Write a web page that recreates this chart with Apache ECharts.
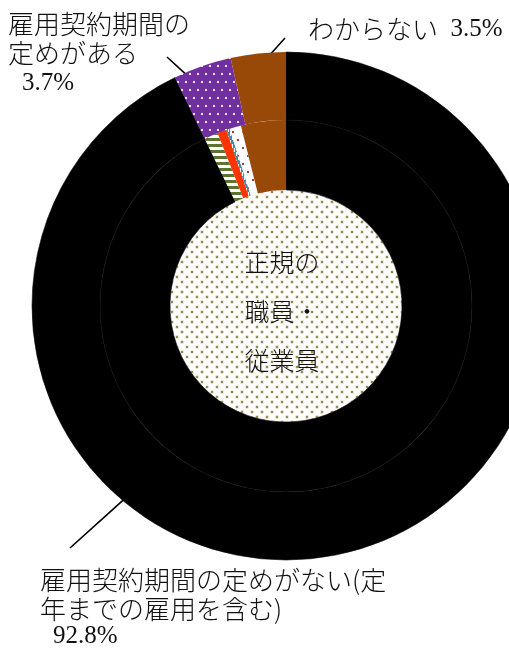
<!DOCTYPE html>
<html>
<head>
<meta charset="utf-8">
<script src="https://cdn.jsdelivr.net/npm/echarts@6/dist/echarts.min.js"></script>
<style>
  html, body { margin: 0; padding: 0; background: #ffffff; }
  #chart { width: 509px; height: 649px; }
</style>
</head>
<body>
<div id="chart"></div>
<script>
// Outer ring: contract period of regular staff (%)
const outerNames = ['雇用契約期間の定めがない(定\n年までの雇用を含む)', '雇用契約期間の\n定めがある', 'わからない'];
const outerValues = [92.8, 3.7, 3.5];

// Inner ring: the same split, with the fixed-term share broken into its periods (%)
const innerKeys = ['none', 'term1', 'term2', 'term3', 'term4', 'unknown'];
const innerValues = [92.8, 1.2, 0.8, 0.3, 1.0, 3.9];

// Centre caption
const centreName = '正規の職員・従業員';
const centreLines = ['正規の', '職員・', '従業員'];

const FONT = '"Noto Sans CJK JP", "Noto Sans CJK SC", sans-serif';
const NUM_FONT = '"Liberation Serif", "DejaVu Serif", serif';
const CX = 286, CY = 306;
const R_CENTRE = 116, R_MID = 186, R_OUT = 254, R_ANCHOR = 229;

// Repeating fill tiles
function tile(w, h, bg, draw) {
  const c = document.createElement('canvas');
  c.width = w; c.height = h;
  const g = c.getContext('2d');
  g.fillStyle = bg;
  g.fillRect(0, 0, w, h);
  draw(g);
  return { image: c, repeat: 'repeat' };
}
const fillCentre = tile(10, 10, '#ffffff', g => {
  [[2, 2], [7, 7]].forEach(([x, y]) => {
    g.fillStyle = '#d2cbac'; g.fillRect(x - 1.5, y - 1.5, 3, 3);
    g.fillStyle = '#978b58'; g.fillRect(x - 1, y - 1, 2, 2);
  });
});
const fillPurple = tile(8, 16, '#7030a0', g => {
  g.fillStyle = '#f0e8f6';
  g.fillRect(1, 1, 2, 2);
  g.fillRect(5, 9, 2, 2);
});
const fillGreen = tile(6, 6, '#ffffff', g => {
  g.fillStyle = '#5d7330';
  g.fillRect(0, 0, 6, 3);
});
const fillTeal = tile(4, 8, '#3a8ea5', g => {
  g.fillStyle = '#ffffff';
  g.fillRect(0, 0, 1, 4);
  g.fillRect(2, 4, 1, 4);
});
const fillDotted = tile(10, 16, '#ffffff', g => {
  g.fillStyle = '#a33a3a';
  g.fillRect(2, 3, 2, 2);
  g.fillRect(7, 11, 2, 2);
});
const BROWN = '#984807';
const BLACK = { color: '#000000', borderColor: '#0f0f0f', borderWidth: 0.6 };

const outerStyles = [BLACK, { color: fillPurple }, { color: BROWN }];
const innerStyles = [BLACK, { color: fillGreen }, { color: '#ff3300' }, { color: fillTeal }, { color: fillDotted }, { color: BROWN }];

// Label placement: text box origin, outer end of leader line, and where along the slice the line points
const labelPlaces = [
  { x: 40, y: 566, end: [70, 548], frac: 0.656 },
  { x: 8, y: 10, end: [167, 57], frac: 0.39 },
  { x: 308, y: 15, end: [285, 38], frac: 0.22 }
];

const outerTotal = outerValues.reduce((a, b) => a + b, 0);
function anchorPoint(i) {
  let before = 0;
  for (let k = 0; k < i; k++) before += outerValues[k];
  const a = (before + labelPlaces[i].frac * outerValues[i]) / outerTotal * Math.PI * 2;
  return [CX + R_ANCHOR * Math.sin(a), CY - R_ANCHOR * Math.cos(a)];
}

function labelText(i) {
  const lines = outerNames[i].split('\n');
  const v = outerValues[i].toFixed(1) + '%';
  if (i === 2) return '{t|' + lines[0] + '}{n|  ' + v + '}';
  const valueKey = i === 0 ? 'v0' : 'v1';
  return lines.map(l => '{t|' + l + '}').join('\n') + '\n{' + valueKey + '|' + v + '}';
}

const chart = echarts.init(document.getElementById('chart'), null, { renderer: 'canvas' });
chart.setOption({
  animation: false,
  backgroundColor: '#ffffff',
  series: [
    {
      type: 'pie',
      name: 'centre',
      center: [CX, CY],
      radius: [0, R_CENTRE],
      silent: true,
      data: [{ name: centreName, value: 100 }],
      itemStyle: { color: fillCentre },
      label: {
        show: true,
        position: 'center',
        formatter: centreLines.join('\n'),
        fontFamily: FONT,
        fontSize: 25,
        fontWeight: 300,
        lineHeight: 49,
        color: '#111111',
        align: 'left'
      },
      labelLayout: { dx: -4, dy: 5 },
      labelLine: { show: false },
      emphasis: { disabled: true }
    },
    {
      type: 'pie',
      name: 'inner',
      center: [CX, CY],
      radius: [R_CENTRE, R_MID],
      startAngle: 90,
      clockwise: true,
      silent: true,
      data: innerValues.map((v, i) => ({ name: innerKeys[i], value: v, itemStyle: innerStyles[i] })),
      label: { show: false },
      labelLine: { show: false },
      emphasis: { disabled: true }
    },
    {
      type: 'pie',
      name: 'outer',
      center: [CX, CY],
      radius: [R_MID, R_OUT],
      startAngle: 90,
      clockwise: true,
      silent: true,
      avoidLabelOverlap: false,
      data: outerValues.map((v, i) => ({ name: outerNames[i], value: v, itemStyle: outerStyles[i] })),
      label: {
        show: true,
        position: 'outside',
        width: 440,
        overflow: 'none',
        formatter: p => labelText(p.dataIndex),
        rich: {
          t: { fontFamily: FONT, fontSize: 26, fontWeight: 300, lineHeight: 29, color: '#111111' },
          n: { fontFamily: NUM_FONT, fontSize: 25, lineHeight: 29, color: '#111111' },
          v0: { fontFamily: NUM_FONT, fontSize: 25, lineHeight: 24, color: '#111111', padding: [0, 0, 0, 13] },
          v1: { fontFamily: NUM_FONT, fontSize: 25, lineHeight: 30, color: '#111111', padding: [0, 0, 0, 14] }
        }
      },
      labelLine: { show: true, lineStyle: { color: '#000000', width: 1.6 } },
      labelLayout: params => {
        const p = labelPlaces[params.dataIndex];
        const a = anchorPoint(params.dataIndex);
        const m = [(a[0] + p.end[0]) / 2, (a[1] + p.end[1]) / 2];
        return {
          x: p.x,
          y: p.y,
          align: 'left',
          verticalAlign: 'top',
          labelLinePoints: [a, m, p.end]
        };
      },
      emphasis: { disabled: true }
    }
  ]
});
</script>
</body>
</html>
